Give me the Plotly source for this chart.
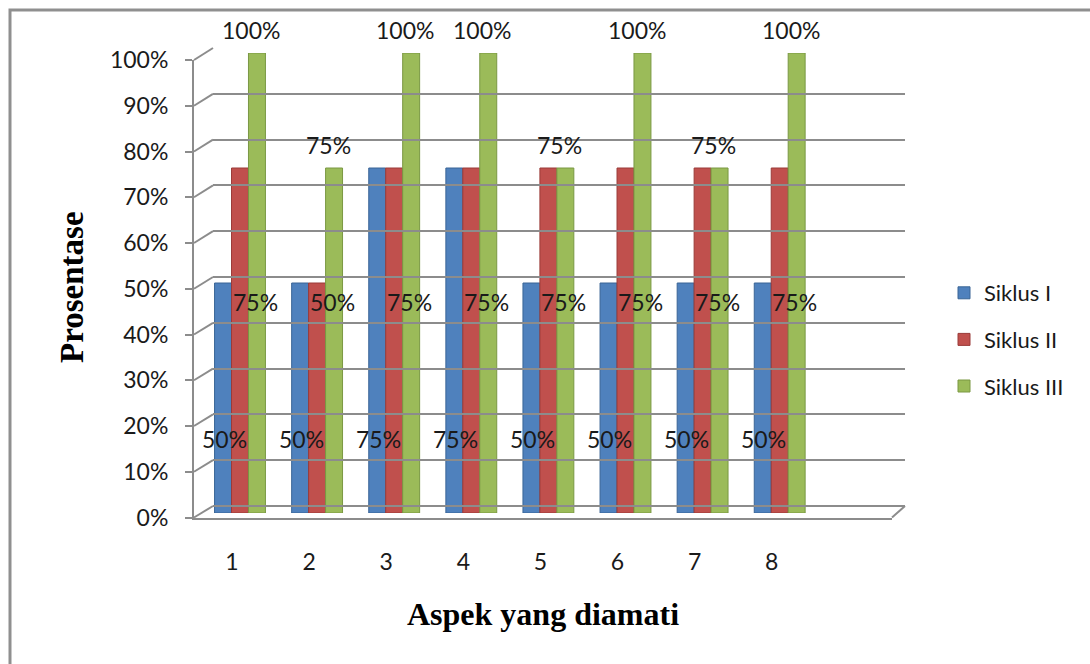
import plotly.graph_objects as go

W, H = 1090, 664

categories = ["1", "2", "3", "4", "5", "6", "7", "8"]
series_names = ["Siklus I", "Siklus II", "Siklus III"]
siklus1 = [50, 50, 75, 75, 50, 50, 50, 50]
siklus2 = [75, 50, 75, 75, 75, 75, 75, 75]
siklus3 = [100, 75, 100, 100, 75, 100, 75, 100]
y_ticks = [0, 10, 20, 30, 40, 50, 60, 70, 80, 90, 100]
x_title = "Aspek yang diamati"
y_title = "Prosentase"

colors = ["#4F81BD", "#C0504D", "#9BBB59"]
edge = ["#3A6596", "#9A3B39", "#7A9843"]
GRID = "#8c8c8c"
LABEL_FONT = dict(family="Lato", size=23, color="#1a1a1a")


def px(p):
    return p / W


def py(p):
    return 1 - p / H


fig = go.Figure()

for name, vals, c, e in zip(series_names, [siklus1, siklus2, siklus3], colors, edge):
    fig.add_trace(go.Bar(
        x=categories, y=vals, name=name, legendgroup=name,
        marker=dict(color=c, line=dict(color=e, width=1)),
        xaxis="x", yaxis="y",
    ))

# invisible traces to activate the front axes and the back wall
fig.add_trace(go.Scatter(x=[0], y=[0], mode="markers", opacity=0, showlegend=False,
                         hoverinfo="skip", xaxis="x2", yaxis="y2"))
fig.add_trace(go.Scatter(x=[0], y=[0], mode="markers", opacity=0, showlegend=False,
                         hoverinfo="skip", xaxis="x3", yaxis="y3"))

annotations = []
# data labels (x given as category index)
for i, (v1, v2, v3) in enumerate(zip(siklus1, siklus2, siklus3)):
    annotations.append(dict(x=i, y=16.1, xref="x", yref="y", text=f"{v1}%",
                            showarrow=False, xshift=-16, font=LABEL_FONT))
    annotations.append(dict(x=i, y=45.8, xref="x", yref="y", text=f"{v2}%",
                            showarrow=False, xshift=15, font=LABEL_FONT))
    annotations.append(dict(x=i, y=v3, xref="x", yref="y", text=f"{v3}%",
                            showarrow=False, xshift=11, yshift=23, font=LABEL_FONT))

annotations.append(dict(x=px(543), y=py(614), xref="paper", yref="paper", text=x_title,
                        showarrow=False, xanchor="center", yanchor="middle",
                        font=dict(family="Liberation Serif", size=32, color="black", weight="bold")))
annotations.append(dict(x=px(72), y=py(287), xref="paper", yref="paper", text=y_title,
                        showarrow=False, textangle=-90, xanchor="center", yanchor="middle",
                        font=dict(family="Liberation Serif", size=33, color="black", weight="bold")))

shapes = []
# outer frame
shapes.append(dict(type="rect", xref="paper", yref="paper", x0=px(10), y0=py(10),
                   x1=1.05, y1=-0.05, line=dict(color="#8f8f8f", width=3), layer="below"))
# slanted connectors from front axis to back wall
for v in y_ticks:
    yf = 517.5 - 4.575 * v
    yb = 506 - 4.58 * v
    shapes.append(dict(type="line", xref="paper", yref="paper", x0=px(194), x1=px(213),
                       y0=py(yf), y1=py(yb), line=dict(color=GRID, width=2), layer="below"))
# right floor edge
shapes.append(dict(type="line", xref="paper", yref="paper", x0=px(892), x1=px(905),
                   y0=py(517.5), y1=py(506), line=dict(color=GRID, width=2), layer="below"))

fig.update_layout(
    width=W, height=H,
    margin=dict(l=0, r=0, t=0, b=0, pad=0, autoexpand=False),
    paper_bgcolor="white", plot_bgcolor="rgba(0,0,0,0)",
    barmode="group", bargap=0.34, bargroupgap=0,
    showlegend=True,
    legend=dict(x=px(944), y=py(272), xanchor="left", yanchor="top",
                font=dict(family="Lato", size=22, color="#1a1a1a"),
                traceorder="grouped", tracegroupgap=15, bgcolor="rgba(0,0,0,0)"),
    annotations=annotations,
    shapes=shapes,
    # bars
    xaxis=dict(domain=[px(201.45), px(895.35)], type="category", range=[-0.5, 8.5],
               showgrid=False, showline=False, zeroline=False, ticks="",
               tickfont=LABEL_FONT, ticklabelshift=-8, ticklabelstandoff=33,
               anchor="y", automargin=False),
    yaxis=dict(domain=[py(513), py(53)], range=[0, 100], visible=False, anchor="x",
               automargin=False),
    # front axes
    xaxis2=dict(domain=[px(194), px(892)], range=[0, 1], anchor="y2",
                showline=True, linecolor=GRID, linewidth=2, showgrid=False,
                zeroline=False, showticklabels=False, ticks="", automargin=False),
    yaxis2=dict(domain=[py(517.5), py(60)], range=[0, 100], anchor="x2",
                showline=True, linecolor=GRID, linewidth=2, showgrid=False, zeroline=False,
                tickvals=y_ticks, ticktext=[f"{t}%" for t in y_ticks],
                ticks="outside", ticklen=7, tickwidth=2, tickcolor=GRID,
                tickfont=LABEL_FONT, ticklabelstandoff=12, automargin=False),
    # back wall gridlines
    xaxis3=dict(domain=[px(213), px(905)], range=[0, 1], anchor="y3", visible=False,
                automargin=False),
    yaxis3=dict(domain=[py(506), py(48)], range=[0, 100], anchor="x3",
                showgrid=True, gridcolor=GRID, gridwidth=2, dtick=10,
                zeroline=True, zerolinecolor=GRID, zerolinewidth=2,
                showticklabels=False, ticks="", showline=False, automargin=False),
)

fig.write_html("out.html")
